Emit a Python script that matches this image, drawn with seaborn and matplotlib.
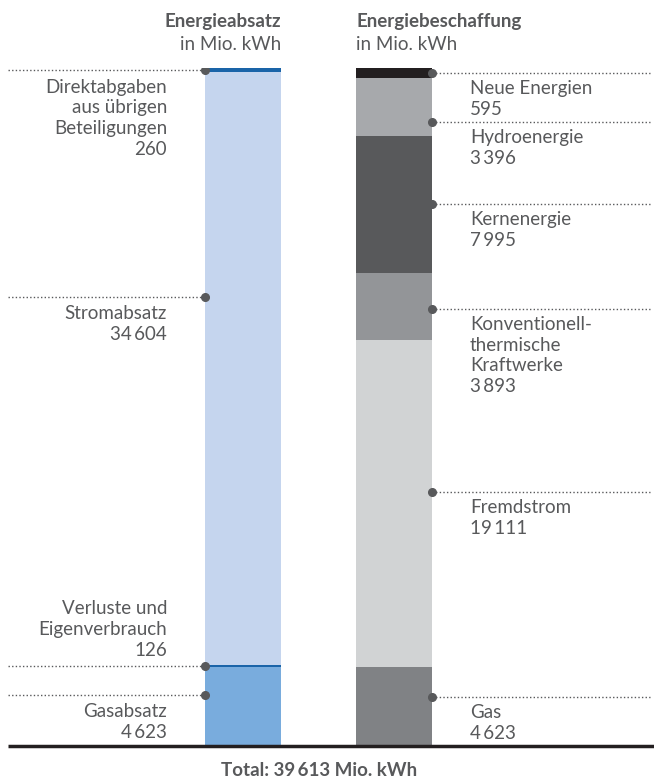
import numpy as np
import pandas as pd
import matplotlib
matplotlib.use("Agg")
import matplotlib.pyplot as plt
import seaborn as sns

# --- Data ---
absatz_labels = ["Gasabsatz", "Verluste und\nEigenverbrauch", "Stromabsatz",
                 "Direktabgaben\naus übrigen\nBeteiligungen"]
absatz_values = [4623, 126, 34604, 260]
absatz_colors = ["#79acdd", "#1a64a8", "#c5d5ee", "#1a64a8"]

beschaffung_labels = ["Gas", "Fremdstrom", "Konventionell-\nthermische\nKraftwerke",
                      "Kernenergie", "Hydroenergie", "Neue Energien"]
beschaffung_values = [4623, 19111, 3893, 7995, 3396, 595]
beschaffung_colors = ["#808285", "#d1d3d4", "#939598", "#58595b", "#a7a9ac", "#231f20"]

bars = ["Energieabsatz", "Energiebeschaffung"]
unit = "in Mio. kWh"

# where the callout dots sit (data units) and whether text goes above the line
absatz_label_y = [2980, 4686, 26235, 39483]
absatz_above = [False, True, False, False]
beschaffung_label_y = [2850, 14840, 25550, 31680, 36430, 39315]

TXT = "#58595b"
FAM = ["Lato", "DejaVu Sans"]
FS = 13.5
LS = 1.28


def fmt(v):
    return f"{v:,}".replace(",", "\u2009")


# --- Setup ---
sns.set_style("white")
plt.rcParams["font.family"] = FAM

W, H = 654, 778
fig = plt.figure(figsize=(W / 100, H / 100), dpi=100)
ax = fig.add_axes([0, (H - 746) / H, 1, 678 / H])

# stacked bars: draw cumulative tops, tallest first
rows = []
for bar, vals, cols in [(bars[0], absatz_values, absatz_colors),
                        (bars[1], beschaffung_values, beschaffung_colors)]:
    tops = np.cumsum(vals)
    for v, t, c in zip(vals, tops, cols):
        rows.append({"bar": bar, "value": v, "top": t, "color": c})
df = pd.DataFrame(rows).sort_values("top", ascending=False)

for _, r in df.iterrows():
    sns.barplot(data=pd.DataFrame([r]), x="bar", y="top", order=bars,
                color=r["color"], saturation=1, width=0.5, errorbar=None,
                linewidth=0, ax=ax)

total = sum(absatz_values)
px = 151.0  # pixels per category unit


def xd(p):
    return (p - 243) / px


ax.set_xlim(xd(0), xd(W))
ax.set_ylim(0, total)
ax.set_axis_off()

# baseline
ax.plot([xd(8), xd(W)], [0, 0], color="#231f20", lw=2.5, clip_on=False,
        solid_capstyle="butt", zorder=5)

# callouts left
for lab, v, y, above in zip(absatz_labels, absatz_values, absatz_label_y, absatz_above):
    ax.plot([xd(8), -0.25], [y, y], color=TXT, lw=1, ls=(0, (1, 1.6)), zorder=6)
    ax.plot([-0.25], [y], "o", color=TXT, ms=5.5, zorder=7)
    txt = lab + "\n" + fmt(v)
    if above:
        ax.annotate(txt, xy=(xd(167), y), xytext=(0, 5), textcoords="offset points",
                    ha="right", va="bottom", fontsize=FS, color=TXT,
                    linespacing=LS, multialignment="right")
    else:
        ax.annotate(txt, xy=(xd(167), y), xytext=(0, -6), textcoords="offset points",
                    ha="right", va="top", fontsize=FS, color=TXT,
                    linespacing=LS, multialignment="right")

# callouts right
for lab, v, y in zip(beschaffung_labels, beschaffung_values, beschaffung_label_y):
    ax.plot([1.25, xd(650)], [y, y], color=TXT, lw=1, ls=(0, (1, 1.6)), zorder=6)
    ax.plot([1.25], [y], "o", color=TXT, ms=5.5, zorder=7)
    ax.annotate(lab + "\n" + fmt(v), xy=(xd(470), y), xytext=(0, -5),
                textcoords="offset points", ha="left", va="top", fontsize=FS,
                color=TXT, linespacing=LS)

# titles
fig.text(281 / W, 1 - 22 / H, bars[0], ha="right", va="center", fontsize=FS,
         fontweight="bold", color=TXT)
fig.text(281 / W, 1 - 45 / H, unit, ha="right", va="center", fontsize=FS, color=TXT)
fig.text(356 / W, 1 - 22 / H, bars[1], ha="left", va="center", fontsize=FS,
         fontweight="bold", color=TXT)
fig.text(356 / W, 1 - 45 / H, unit, ha="left", va="center", fontsize=FS, color=TXT)

fig.text(319 / W, 1 - 770 / H, f"Total: {fmt(total)} Mio. kWh", ha="center", va="center",
         fontsize=FS, fontweight="bold", color=TXT)

fig.savefig("out.png", dpi=100, facecolor="white")
